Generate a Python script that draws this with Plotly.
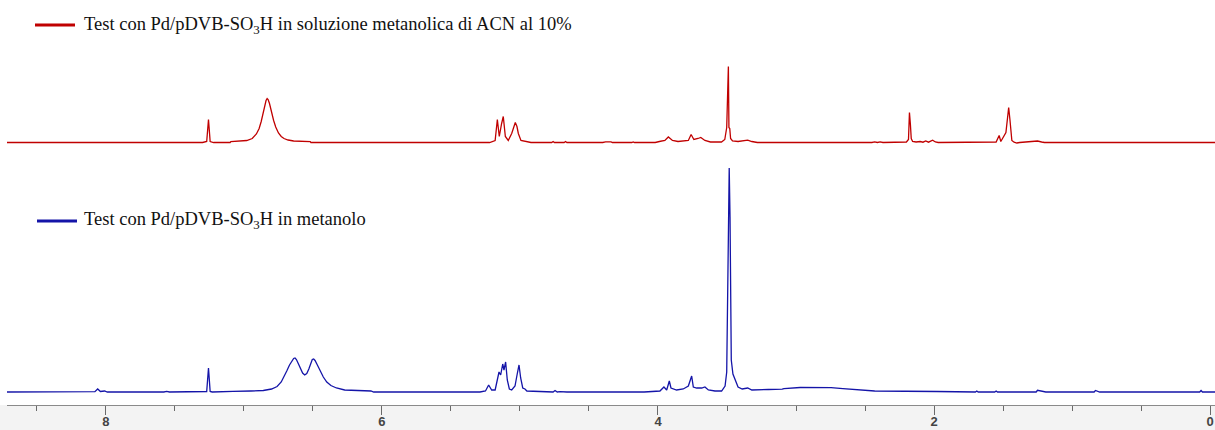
import plotly.graph_objects as go

# 1H NMR spectra: chemical shift (ppm) and intensity above each trace's baseline (arb. units)
acn_ppm = [8.717, 7.30, 7.27, 7.257, 7.245, 7.22,
           7.10, 7.095, 6.98, 6.94, 6.91, 6.89, 6.875, 6.86, 6.85, 6.84, 6.832, 6.825, 6.815, 6.80, 6.785,
           6.77, 6.75, 6.73, 6.71, 6.68, 6.64, 6.52, 6.515,
           5.22, 5.205, 5.18, 5.164, 5.150, 5.133, 5.121, 5.106, 5.085, 5.060, 5.045, 5.034, 5.022, 5.012,
           4.993, 4.964, 4.94, 4.92,
           4.77, 4.76, 4.75, 4.68, 4.67, 4.66,
           4.40, 4.38, 4.34, 4.33, 4.19, 4.18, 4.17,
           4.02, 3.99, 3.95, 3.925, 3.895, 3.855, 3.81, 3.78, 3.76, 3.74, 3.71, 3.69, 3.66, 3.62, 3.54, 3.516,
           3.502, 3.495, 3.490, 3.486, 3.480, 3.474, 3.46, 3.42, 3.38, 3.35, 3.32, 3.28,
           2.45, 2.43, 2.41, 2.39, 2.37, 2.30, 2.25, 2.20, 2.185, 2.178, 2.171, 2.165, 2.155, 2.13, 2.10, 2.08,
           2.06, 2.04, 2.01, 1.99, 1.97,
           1.56, 1.55, 1.528, 1.516, 1.479, 1.459, 1.450, 1.436, 1.42, 1.40, 1.38, 1.31, 1.25, 1.22, 1.20, -0.036]
acn_int = [0, 0, 1, 23, 1, 0,
           0, 0.8, 2, 4, 8.5, 14, 21, 30, 37, 42, 44, 43, 39, 30, 22,
           15.5, 9.5, 6, 4, 2.5, 1.5, 0.8, 0,
           0, 0.5, 2, 23, 6, 19, 26, 6, 2, 9, 16, 20, 16, 9,
           2, 1, 0.5, 0,
           0, 1, 0, 0, 1, 0,
           0, 0.6, 0.6, 0, 0, 0.6, 0,
           0, 1, 2, 5.5, 2, 1, 2, 2, 8, 3, 4, 5, 2, 0.5, 0.5, 3,
           15, 64, 76, 15, 14, 4, 1.5, 1, 1.5, 2.3, 1, 0,
           0, 0.6, 0, 0.6, 0, 0.5, 0.5, 0.5, 3, 30, 18, 4, 1, 0.5, 1, 0.3,
           1.5, 0.3, 2.3, 0.5, 0,
           0, 0.5, 7, 1, 10, 35, 23, 2, 0.3, -0.5, 0, 0.5, 1.5, 0.5, 0, 0]

meoh_ppm = [8.717, 8.26, 8.24, 8.22, 8.12, 8.10, 8.08, 8.06, 8.04, 8.01, 7.99,
            7.58, 7.56, 7.54, 7.28, 7.27, 7.257, 7.245, 7.23,
            7.09, 7.08, 6.95, 6.86, 6.80, 6.76, 6.73, 6.71, 6.69, 6.67, 6.655, 6.64, 6.63, 6.62, 6.605, 6.59,
            6.575, 6.56, 6.545, 6.53, 6.515, 6.505, 6.495, 6.485, 6.47, 6.45, 6.425, 6.40, 6.37, 6.33, 6.27,
            6.08, 6.06,
            5.29, 5.25, 5.227, 5.205, 5.18, 5.163, 5.152, 5.14, 5.125, 5.116, 5.104, 5.092, 5.077, 5.06, 5.036,
            5.02, 5.007, 4.995, 4.98, 4.964, 4.95, 4.855, 4.81, 4.76, 4.746, 4.73, 4.71, 4.674, 4.66,
            4.10, 4.06, 3.986, 3.957, 3.937, 3.918, 3.906, 3.865, 3.817, 3.78, 3.756, 3.744, 3.72, 3.683, 3.66,
            3.635, 3.587, 3.539, 3.514, 3.502, 3.493, 3.484, 3.478, 3.473, 3.469, 3.457, 3.442, 3.42, 3.39,
            3.35, 3.32, 3.26, 3.20, 3.10, 3.087, 2.97, 2.886, 2.746, 2.66, 2.488, 2.43, 1.98, 1.86,
            1.70, 1.69, 1.68, 1.56, 1.55, 1.54, 1.26, 1.25, 1.21, 1.19, 0.84, 0.83, 0.80,
            0.075, 0.065, 0.055, -0.036]
meoh_int = [0, 0, 0.5, 0, 0, 0.6, 0.3, 3, 0.5, 1, 0,
            0, 0.6, 0, 0, 0.5, 24, 0.5, 0,
            0, 0.6, 1, 1.5, 3, 5.5, 10, 15, 21, 27, 31, 33.5, 34, 32.5, 28, 23,
            19, 17, 18.5, 23, 29, 32.5, 33, 31.5, 27.5, 22, 15, 10, 6.5, 4, 2,
            1, 0,
            0, 1, 7, 2, 2, 12, 20, 17, 28, 22, 30, 12, 3, 2, 6,
            18, 27, 14, 4, 3, 1, 0.5, 0, 0, 1.5, 0, 0.3, 0.5, 0,
            0, 0.5, 1, 5, 2, 11, 4, 2, 3, 6, 16, 5, 4, 4, 5,
            2, 1, 1, 6, 20, 119, 224, 175, 100, 32, 18, 12, 5, 3,
            4, 2, 2, 2.5, 2.8, 3.3, 4.5, 4.7, 4.3, 3.3, 2, 1, 0.5, 0.3,
            0, 1, 0, 0, 1, 0, 0, 1.7, 0.5, 0, 0, 1.5, 0,
            0, 1.5, 0, 0]

series_names = [
    "Test con Pd/pDVB-SO<sub>3</sub>H in soluzione metanolica di ACN al 10%",
    "Test con Pd/pDVB-SO<sub>3</sub>H in metanolo",
]
tick_vals = [8, 6, 4, 2, 0]

# vertical stacking of the two traces
RED, BLUE = "#c00000", "#1414a8"
offset_acn, offset_meoh = 262.5, 13
W, H = 1215, 430
ML, MB = 7, 25
PW, PH = W - ML, H - MB

fig = go.Figure()
fig.add_trace(go.Scatter(x=acn_ppm, y=[v + offset_acn for v in acn_int], mode="lines",
                         line=dict(color=RED, width=1.3), name=series_names[0], showlegend=False))
fig.add_trace(go.Scatter(x=meoh_ppm, y=[v + offset_meoh for v in meoh_int], mode="lines",
                         line=dict(color=BLUE, width=1.3), name=series_names[1], showlegend=False))


def px(x):
    return (x - ML) / PW


def py(y):
    return (PH - y) / PH


shapes = [
    # grey band under the axis
    dict(type="rect", xref="paper", yref="paper", x0=-0.01, x1=1.01, y0=-MB / PH - 0.01, y1=0,
         fillcolor="#f3f3f3", line=dict(width=0), layer="below"),
    # legend swatches
    dict(type="line", xref="paper", yref="paper", x0=px(35), x1=px(75), y0=py(25), y1=py(25),
         line=dict(color=RED, width=3)),
    dict(type="line", xref="paper", yref="paper", x0=px(37), x1=px(77), y0=py(221), y1=py(221),
         line=dict(color=BLUE, width=3)),
]
legend_font = dict(family="Liberation Serif", size=18.5, color="#111111")
annotations = [
    dict(xref="paper", yref="paper", x=px(82), y=py(25), xanchor="left", yanchor="middle",
         text=series_names[0], showarrow=False, font=legend_font),
    dict(xref="paper", yref="paper", x=px(82), y=py(221), xanchor="left", yanchor="middle",
         text=series_names[1], showarrow=False, font=legend_font),
]

fig.update_layout(
    width=W, height=H, autosize=False,
    margin=dict(l=ML, r=0, t=0, b=MB, pad=0),
    paper_bgcolor="white", plot_bgcolor="white",
    shapes=shapes, annotations=annotations,
    xaxis=dict(range=[8.717, -0.036], showgrid=False, zeroline=False, automargin=False,
               showline=True, linecolor="#8a8a8a", linewidth=1,
               ticks="outside", ticklen=9, tickcolor="#6a6a6a", tickwidth=1,
               tickvals=tick_vals, ticktext=[str(t) for t in tick_vals],
               ticklabelstandoff=-5,
               tickfont=dict(family="Liberation Sans", size=13, color="#444444", weight="bold"),
               minor=dict(dtick=0.5, tick0=0, ticks="outside", ticklen=5, tickcolor="#6a6a6a",
                          showgrid=False)),
    yaxis=dict(range=[0, PH], visible=False, showgrid=False, zeroline=False, automargin=False),
)

fig.write_html("out.html")
